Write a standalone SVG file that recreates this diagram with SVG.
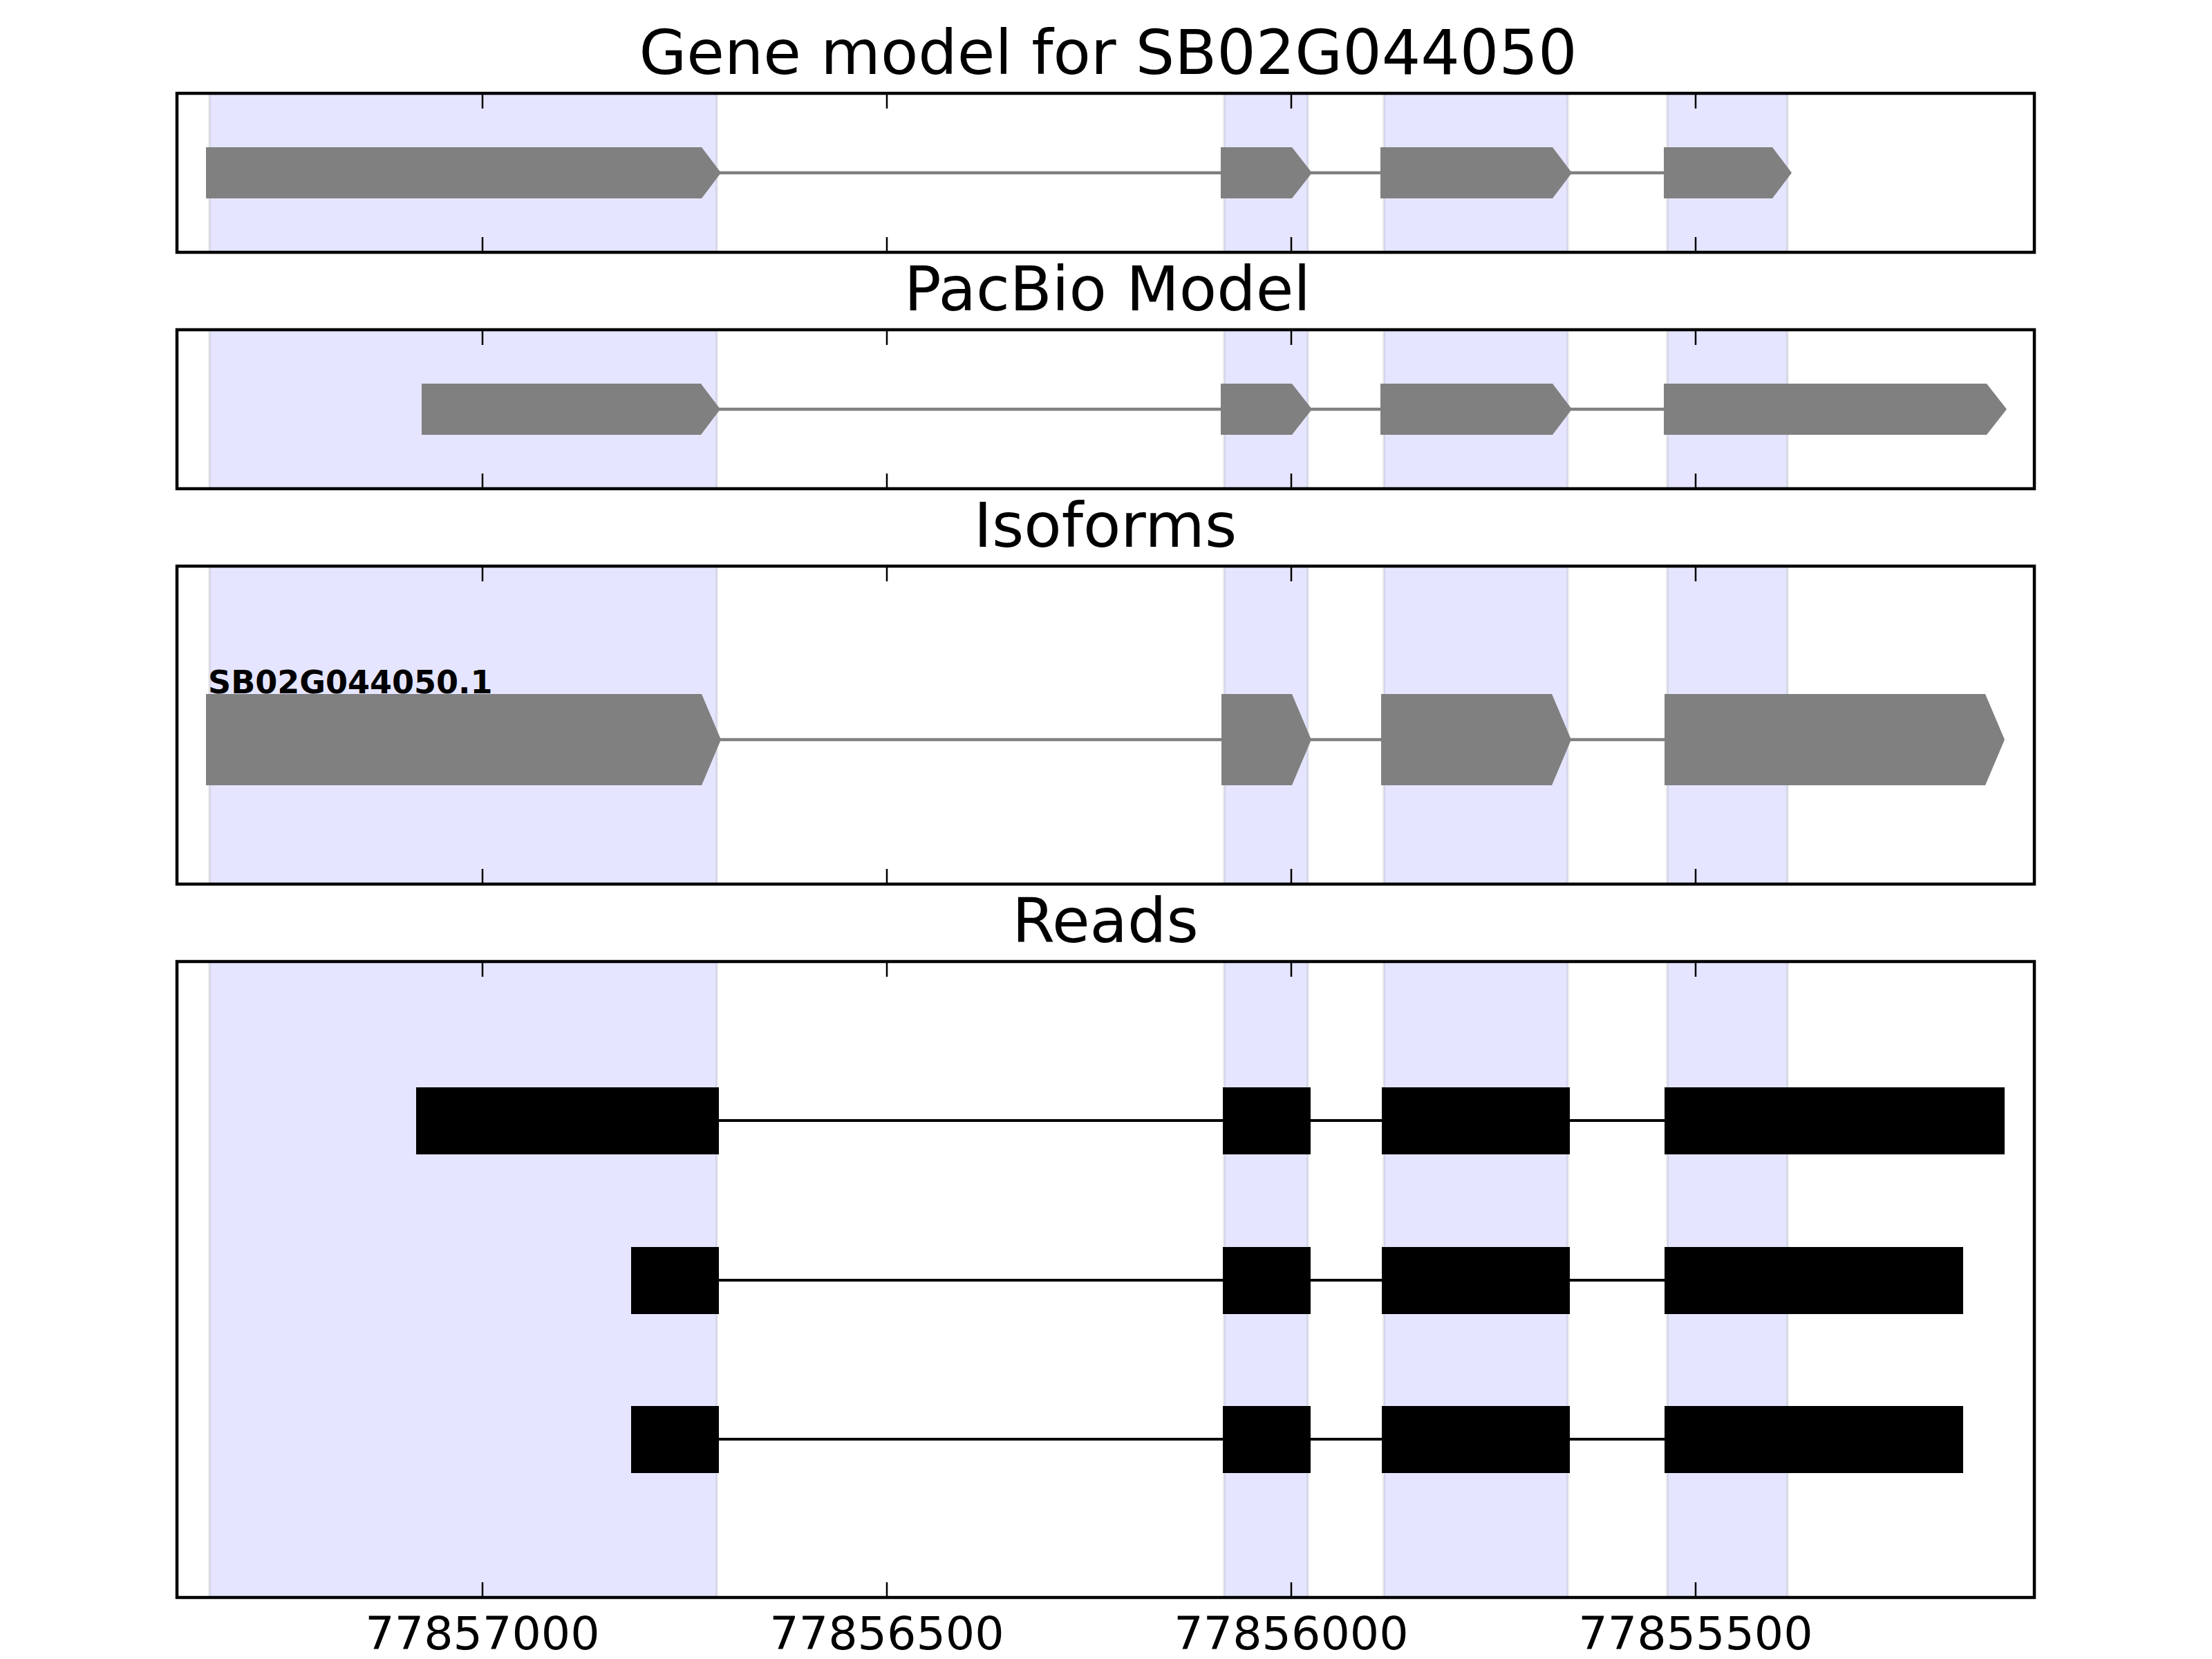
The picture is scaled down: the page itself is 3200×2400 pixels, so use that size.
<svg xmlns="http://www.w3.org/2000/svg" width="3200" height="2400" viewBox="0 0 3200 2400">
<style>
.title{font-family:"DejaVu Sans","Liberation Sans",sans-serif;font-size:88.9px;text-anchor:middle;fill:#000}
.tick{font-family:"DejaVu Sans","Liberation Sans",sans-serif;font-size:66.7px;text-anchor:middle;fill:#000}
.lbl{font-family:"DejaVu Sans","Liberation Sans",sans-serif;font-size:46px;font-weight:bold;fill:#000}
.span{fill:#0000ff;fill-opacity:0.1;stroke:#000;stroke-opacity:0.08;stroke-width:4}
.frame{fill:none;stroke:#000;stroke-width:4.5}
.tk{stroke:#000;stroke-width:2.5}
.ex{fill:#808080}
.rd{fill:#000}
.intg{stroke:#808080;stroke-width:4.5;fill:none}
.intb{stroke:#000;stroke-width:4;fill:none}
</style>
<defs>
<clipPath id="c1"><rect x="256" y="135" width="2687" height="230"/></clipPath>
<clipPath id="c2"><rect x="256" y="477" width="2687" height="230"/></clipPath>
<clipPath id="c3"><rect x="256" y="819" width="2687" height="460"/></clipPath>
<clipPath id="c4"><rect x="256" y="1391" width="2687" height="920"/></clipPath>
</defs>
<rect width="3200" height="2400" fill="#fff"/>

<!-- shaded exon regions -->
<g id="shading">
<g clip-path="url(#c1)" class="span"><rect x="303" y="135" width="734" height="230"/><rect x="1771" y="135" width="121" height="230"/><rect x="2002" y="135" width="266" height="230"/><rect x="2412" y="135" width="174" height="230"/></g>
<g clip-path="url(#c2)" class="span"><rect x="303" y="477" width="734" height="230"/><rect x="1771" y="477" width="121" height="230"/><rect x="2002" y="477" width="266" height="230"/><rect x="2412" y="477" width="174" height="230"/></g>
<g clip-path="url(#c3)" class="span"><rect x="303" y="819" width="734" height="460"/><rect x="1771" y="819" width="121" height="460"/><rect x="2002" y="819" width="266" height="460"/><rect x="2412" y="819" width="174" height="460"/></g>
<g clip-path="url(#c4)" class="span"><rect x="303" y="1391" width="734" height="920"/><rect x="1771" y="1391" width="121" height="920"/><rect x="2002" y="1391" width="266" height="920"/><rect x="2412" y="1391" width="174" height="920"/></g>
</g>

<!-- connectors (introns) -->
<g id="connectors">
<line class="intg" x1="1040" y1="250" x2="2410" y2="250"/>
<line class="intg" x1="1040" y1="592" x2="2410" y2="592"/>
<line class="intg" x1="1040" y1="1070" x2="2410" y2="1070"/>
<line class="intb" x1="1040" y1="1621" x2="2410" y2="1621"/>
<line class="intb" x1="1040" y1="1852" x2="2410" y2="1852"/>
<line class="intb" x1="1040" y1="2082" x2="2410" y2="2082"/>
</g>

<!-- Gene model panel -->
<g id="gene-model">
<polygon class="ex" points="298,213 1015,213 1043,250 1015,287 298,287"/>
<polygon class="ex" points="1766,213 1869,213 1898,250 1869,287 1766,287"/>
<polygon class="ex" points="1997,213 2246,213 2274,250 2246,287 1997,287"/>
<polygon class="ex" points="2407,213 2564,213 2592,250 2564,287 2407,287"/>
</g>

<!-- PacBio model panel -->
<g id="pacbio-model">
<polygon class="ex" points="610,555 1014,555 1042,592 1014,629 610,629"/>
<polygon class="ex" points="1766,555 1869,555 1898,592 1869,629 1766,629"/>
<polygon class="ex" points="1997,555 2246,555 2274,592 2246,629 1997,629"/>
<polygon class="ex" points="2407,555 2874,555 2903,592 2874,629 2407,629"/>
</g>

<!-- Isoforms panel -->
<g id="isoforms">
<polygon class="ex" points="298,1004 1015,1004 1043,1070 1015,1136 298,1136"/>
<polygon class="ex" points="1767,1004 1869,1004 1897,1070 1869,1136 1767,1136"/>
<polygon class="ex" points="1998,1004 2245,1004 2273,1070 2245,1136 1998,1136"/>
<polygon class="ex" points="2408,1004 2872,1004 2900,1070 2872,1136 2408,1136"/>
<text class="lbl" x="301" y="1003">SB02G044050.1</text>
</g>

<!-- Reads panel -->
<g id="read-1">
<rect class="rd" x="602" y="1573" width="438" height="97"/>
<rect class="rd" x="1769" y="1573" width="127" height="97"/>
<rect class="rd" x="1999" y="1573" width="272" height="97"/>
<rect class="rd" x="2408" y="1573" width="492" height="97"/>
</g>
<g id="read-2">
<rect class="rd" x="913" y="1804" width="127" height="97"/>
<rect class="rd" x="1769" y="1804" width="127" height="97"/>
<rect class="rd" x="1999" y="1804" width="272" height="97"/>
<rect class="rd" x="2408" y="1804" width="432" height="97"/>
</g>
<g id="read-3">
<rect class="rd" x="913" y="2034" width="127" height="97"/>
<rect class="rd" x="1769" y="2034" width="127" height="97"/>
<rect class="rd" x="1999" y="2034" width="272" height="97"/>
<rect class="rd" x="2408" y="2034" width="432" height="97"/>
</g>

<!-- frames and ticks -->
<g id="axes">
<rect class="frame" x="256" y="135" width="2687" height="230"/>
<rect class="frame" x="256" y="477" width="2687" height="230"/>
<rect class="frame" x="256" y="819" width="2687" height="460"/>
<rect class="frame" x="256" y="1391" width="2687" height="920"/>
<g class="tk">
<path d="M698,135v22M1283,135v22M1868,135v22M2453,135v22M698,365v-22M1283,365v-22M1868,365v-22M2453,365v-22"/>
<path d="M698,477v22M1283,477v22M1868,477v22M2453,477v22M698,707v-22M1283,707v-22M1868,707v-22M2453,707v-22"/>
<path d="M698,819v22M1283,819v22M1868,819v22M2453,819v22M698,1279v-22M1283,1279v-22M1868,1279v-22M2453,1279v-22"/>
<path d="M698,1391v22M1283,1391v22M1868,1391v22M2453,1391v22M698,2311v-22M1283,2311v-22M1868,2311v-22M2453,2311v-22"/>
</g>
<text class="tick" x="698" y="2386">77857000</text>
<text class="tick" x="1283" y="2386">77856500</text>
<text class="tick" x="1868" y="2386">77856000</text>
<text class="tick" x="2453" y="2386">77855500</text>
</g>

<g id="titles">
<text class="title" x="1603" y="107">Gene model for SB02G044050</text>
<text class="title" x="1602" y="449">PacBio Model</text>
<text class="title" x="1599" y="791">Isoforms</text>
<text class="title" x="1599" y="1363">Reads</text>
</g>
</svg>
